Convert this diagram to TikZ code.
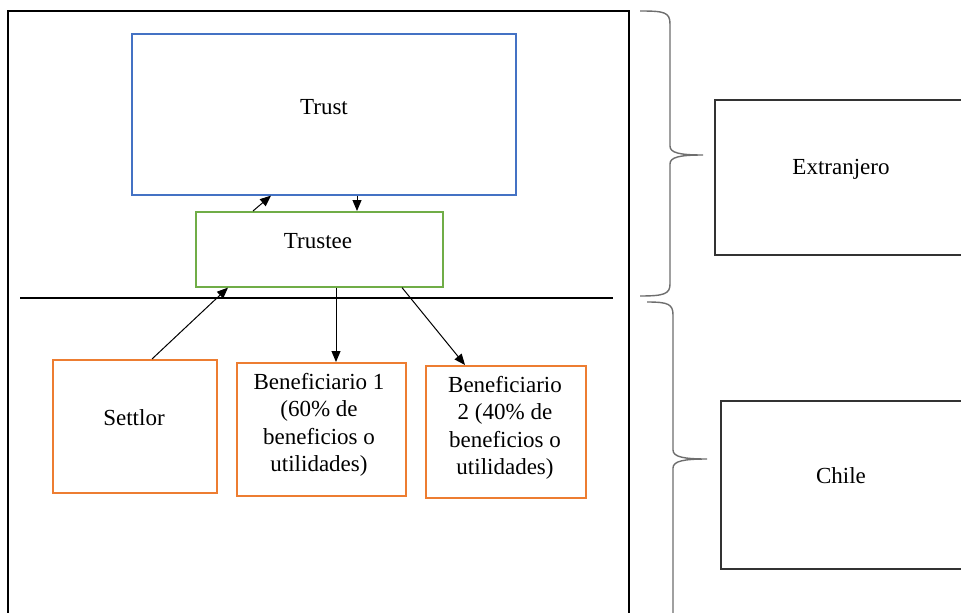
\documentclass[tikz,border=0pt]{standalone}
\usepackage{fontspec}
\setmainfont{Liberation Serif}
\usetikzlibrary{arrows.meta}
\definecolor{bluebox}{RGB}{68,114,196}
\definecolor{greenbox}{RGB}{112,173,71}
\definecolor{orangebox}{RGB}{237,125,49}
\definecolor{bracegray}{RGB}{110,110,110}
\begin{document}
\begin{tikzpicture}[x=1pt,y=-1pt,
  box/.style={draw,line width=1.6pt,minimum width=#1,inner sep=0pt,anchor=north west},
  txt/.style={font=\fontsize{23}{27.5}\selectfont,align=center,inner sep=0pt},
  arr/.style={line width=1pt,-{Triangle[length=11pt,width=9pt]}},
  brace/.style={draw=bracegray,line width=1.4pt}]
\useasboundingbox (0,0) rectangle (961,613);
\fill[white] (0,0) rectangle (961,613);
% outer frame
\draw[line width=1.4pt] (8,625) -- (8,11) -- (629,11) -- (629,625);
% separator
\draw[line width=2.6pt] (20,298) -- (613,298);
% boxes
\node[box=384pt,minimum height=161pt,draw=bluebox] (trust) at (131,33) {};
\node[box=247pt,minimum height=75pt,draw=greenbox] (trustee) at (195,211) {};
\node[box=164pt,minimum height=133pt,draw=orangebox] (settlor) at (52,359) {};
\node[box=169pt,minimum height=133pt,draw=orangebox] (benA) at (236,362) {};
\node[box=160pt,minimum height=132pt,draw=orangebox] (benB) at (425,365) {};
\node[box=255pt,minimum height=155pt,draw=black!80] (extbox) at (714,99) {};
\node[box=250pt,minimum height=168pt,draw=black!80] (chilebox) at (720,400) {};
% texts
\node[txt] (ttrust) at (324,107) {Trust};
\node[txt] (ttrustee) at (318,241) {Trustee};
\node[txt] (tsettlor) at (134,418) {Settlor};
\node[txt] (tbenA) at (319,425) {Beneficiario 1\\(60\% de\\beneficios o\\utilidades)};
\node[txt] (tbenB) at (505,428) {Beneficiario\\2 (40\% de\\beneficios o\\utilidades)};
\node[txt] (textr) at (841,169) {Extranjero};
\node[txt] (tchile) at (841,476) {Chile};
% arrows
\draw[arr] ([xshift=58pt]trustee.north west) -- ([xshift=140pt]trust.south west);
\draw[arr] ([xshift=226pt]trust.south west) -- ([xshift=162pt]trustee.north west);
\draw[arr] ([xshift=100pt]settlor.north west) -- ([xshift=33pt]trustee.south west);
\draw[arr] ([xshift=141pt]trustee.south west) -- ([xshift=100pt]benA.north west);
\draw[arr] ([xshift=207pt]trustee.south west) -- ([xshift=40pt]benB.north west);
% braces
\draw[brace] (640,11) .. controls (664,11) and (670,12) .. (670,24) -- (670,146)
  .. controls (670,153) and (680,155) .. (703,155)
  .. controls (680,155) and (670,157) .. (670,164) -- (670,284)
  .. controls (670,294) and (664,296) .. (640,296);
\draw[brace] (647,302) .. controls (668,302) and (673,304) .. (673,315) -- (673,450)
  .. controls (673,457) and (684,459) .. (707,459)
  .. controls (684,459) and (673,461) .. (673,468) -- (673,625);
\end{tikzpicture}
\end{document}
